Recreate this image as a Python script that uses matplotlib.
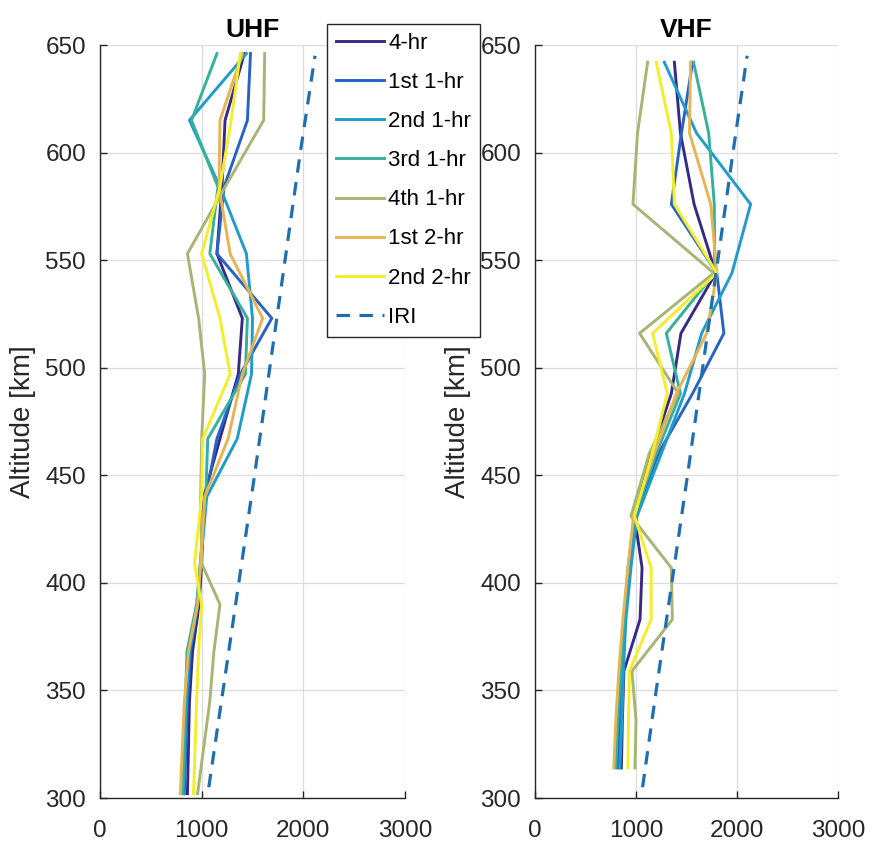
import matplotlib
matplotlib.use("Agg")
import matplotlib.pyplot as plt

plt.rcParams['font.family'] = ['Liberation Sans', 'DejaVu Sans']

# ---- data -------------------------------------------------------------
series_names = ['4-hr', '1st 1-hr', '2nd 1-hr', '3rd 1-hr', '4th 1-hr', '1st 2-hr', '2nd 2-hr']
series_colors = ['#352a87', '#2563c4', '#1f9bcc', '#34b09b', '#a6b573', '#e8b453', '#f2ee2a']
iri_color = '#1f6fb0'

# UHF altitude gates (km)
uhf_alt = [302, 345, 368, 390, 409, 440, 467, 497, 523, 553, 584, 615, 646]
uhf_4hr  = [860, 880, 910, 975, 1000, 1020, 1180, 1360, 1400, 1150, 1200, 1230, 1420]
uhf_1h1  = [830, 860, 890, 960, 990, 1040, 1150, 1380, 1690, 1150, 1220, 1450, 1480]
uhf_1h2  = [820, 850, 880, 960, 990, 1050, 1350, 1490, 1500, 1440, 1180, 880, 1440]
uhf_1h3  = [810, 840, 855, 950, 985, 1040, 1060, 1430, 1450, 1080, 1160, 900, 1150]
uhf_1h4  = [960, 1080, 1120, 1180, 1000, 990, 1000, 1030, 970, 860, 1230, 1610, 1620]
uhf_2h1  = [790, 830, 870, 960, 990, 1030, 1260, 1400, 1600, 1280, 1170, 1180, 1400]
uhf_2h2  = [920, 950, 970, 1000, 930, 1000, 1010, 1280, 1180, 1000, 1180, 1290, 1380]

# VHF altitude gates (km)
vhf_alt = [314, 336, 359, 383, 407, 431, 460, 488, 516, 544, 576, 609, 642]
vhf_4hr  = [855, 865, 880, 1040, 1060, 985, 1150, 1350, 1445, 1790, 1575, 1440, 1380]
vhf_1h1  = [820, 840, 870, 890, 930, 990, 1220, 1560, 1870, 1800, 1350, 1450, 1560]
vhf_1h2  = [840, 860, 875, 900, 950, 1010, 1250, 1480, 1650, 1950, 2135, 1600, 1280]
vhf_1h3  = [800, 820, 850, 880, 920, 985, 1200, 1440, 1300, 1780, 1775, 1720, 1570]
vhf_1h4  = [990, 1000, 960, 1360, 1350, 950, 1130, 1420, 1035, 1770, 970, 1015, 1115]
vhf_2h1  = [780, 800, 830, 870, 920, 975, 1180, 1400, 1700, 1800, 1740, 1530, 1540]
vhf_2h2  = [920, 925, 935, 1150, 1150, 985, 1160, 1310, 1165, 1800, 1380, 1350, 1200]

# IRI model profile
iri_alt = [305, 350, 400, 450, 500, 550, 600, 645]
iri_uhf = [1070, 1210, 1365, 1520, 1670, 1820, 1970, 2115]
iri_vhf = [1065, 1200, 1355, 1510, 1660, 1810, 1960, 2100]

uhf_series = [uhf_4hr, uhf_1h1, uhf_1h2, uhf_1h3, uhf_1h4, uhf_2h1, uhf_2h2]
vhf_series = [vhf_4hr, vhf_1h1, vhf_1h2, vhf_1h3, vhf_1h4, vhf_2h1, vhf_2h2]

# ---- figure -----------------------------------------------------------
W, H = 872, 843
fig = plt.figure(figsize=(W / 100, H / 100), dpi=100)

ax_u = fig.add_axes([100 / W, 1 - 798 / H, 305 / W, 753 / H])
ax_v = fig.add_axes([535 / W, 1 - 798 / H, 303 / W, 753 / H])

tick_color = '#262626'

def style_axis(ax, title, alt, series, iri):
    handles = []
    for vals, name, col in zip(series, series_names, series_colors):
        h, = ax.plot(vals, alt, color=col, lw=2.1, label=name)
        handles.append(h)
    h, = ax.plot(iri, iri_alt, color=iri_color, lw=2.3, ls=(0, (4.2, 3.0)), label='IRI')
    handles.append(h)
    ax.set_xlim(0, 3000)
    ax.set_ylim(300, 650)
    ax.set_xticks([0, 1000, 2000, 3000])
    ax.set_yticks(range(300, 651, 50))
    ax.grid(True, color='#dcdcdc', lw=0.9)
    ax.set_axisbelow(True)
    for s in ('top', 'right'):
        ax.spines[s].set_visible(False)
    for s in ('left', 'bottom'):
        ax.spines[s].set_color(tick_color)
        ax.spines[s].set_linewidth(1.0)
    ax.tick_params(direction='in', length=5, width=1, colors=tick_color,
                   labelsize=17.5)
    ax.tick_params(axis='y', pad=10)
    ax.tick_params(axis='x', pad=16)
    ax.set_title(title, fontsize=19, fontweight='bold', pad=6)
    ax.set_ylabel('Altitude [km]', fontsize=20, color=tick_color, labelpad=7)
    return handles

handles = style_axis(ax_u, 'UHF', uhf_alt, uhf_series, iri_uhf)
style_axis(ax_v, 'VHF', vhf_alt, vhf_series, iri_vhf)

leg = fig.legend(handles=handles, loc='upper left',
                 bbox_to_anchor=(327 / W, 1 - 24 / H), bbox_transform=fig.transFigure,
                 fontsize=16.0, frameon=True, fancybox=False, framealpha=1,
                 edgecolor='#262626', handlelength=2.15, handletextpad=0.2,
                 labelspacing=0.815, borderpad=0.4, borderaxespad=0)
leg.get_frame().set_linewidth(1.0)
leg.set_zorder(10)

fig.savefig('out.png', dpi=100)
